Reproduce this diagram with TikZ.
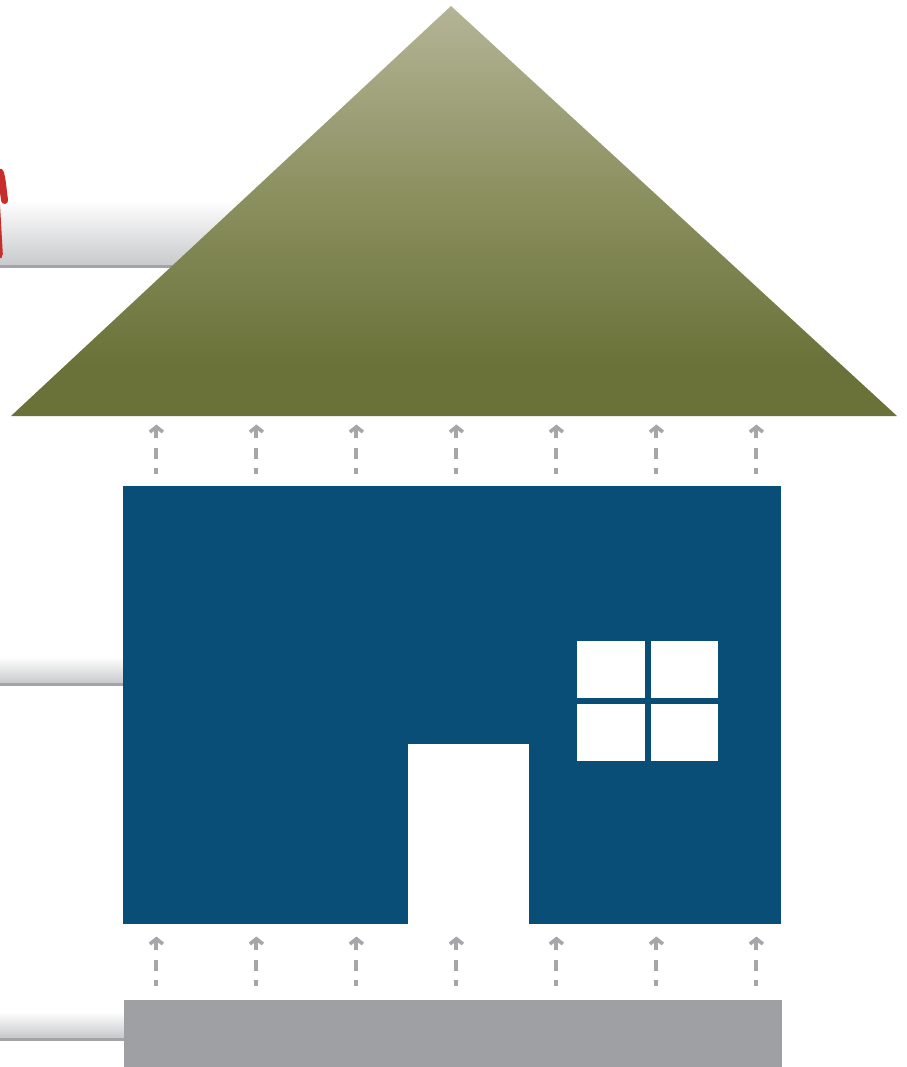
\documentclass[tikz,border=0pt]{standalone}
\definecolor{roofTop}{HTML}{B4B496}
\definecolor{roofMid}{HTML}{8A8F5E}
\definecolor{roofBot}{HTML}{6A7239}
\definecolor{wallBlue}{HTML}{084E77}
\definecolor{baseGrey}{HTML}{9FA0A3}
\definecolor{arrowGrey}{HTML}{A5A6A9}
\definecolor{bandGrey}{HTML}{C9CACC}
\definecolor{lineGrey}{HTML}{A3A4A7}
\definecolor{markRed}{HTML}{C62D2B}
\pgfdeclareverticalshading{roofgrad}{100bp}{
  color(0bp)=(roofBot); color(31.2bp)=(roofBot); color(51.3bp)=(roofMid);
  color(75bp)=(roofTop); color(100bp)=(roofTop)}
\tikzset{
  x=1pt,y=-1pt,
  band/.style={draw=none,top color=white,bottom color=bandGrey},
  bandline/.style={lineGrey,line width=3pt},
  flowdash/.style={draw=arrowGrey,line width=4pt},
  flowhead/.style={draw=arrowGrey,line width=3.6pt,line join=miter},
  pane/.style={fill=white,draw=none},
}
\newcommand{\upflow}[2]{%
  \draw[flowdash] ({#1+0.4},{#2+50}) -- ({#1+0.4},{#2+44});
  \draw[flowdash] ({#1+0.4},{#2+35}) -- ({#1+0.4},{#2+23.5});
  \draw[flowdash] ({#1+0.4},{#2+14}) -- ({#1+0.4},{#2+3});
  \draw[flowhead] ({#1-6.1},{#2+8}) -- ({#1+0.4},{#2+2.8}) -- ({#1+6.9},{#2+8});
}
\begin{document}
\begin{tikzpicture}
\useasboundingbox (0,0) rectangle (906,1067);
% side bands
\fill[band] (0,200) rectangle (240,265);
\draw[bandline] (0,266) -- (180,266);
\fill[band] (0,657) rectangle (123,683);
\draw[bandline] (0,684.5) -- (123,684.5);
\fill[band] (0,1012) rectangle (124,1037);
\draw[bandline] (0,1039) -- (124,1039);
% red marks
\draw[markRed,line width=7pt,line cap=round] (0,172) .. controls (2.5,178) and (3,190) .. (4.6,200.5);
\fill[markRed] (0,205) -- (1,222) -- (2.8,254) -- (1.5,258) -- (0,258) -- cycle;
% roof
\shade[shading=roofgrad] (451,6) -- (897,416) -- (11,416) -- cycle;
% body
\fill[wallBlue] (123,486) rectangle (781,924);
\fill[white] (408,744) rectangle (529,925);
\fill[pane] (577,641) rectangle (645,698);
\fill[pane] (651,641) rectangle (718,698);
\fill[pane] (577,704) rectangle (645,761);
\fill[pane] (651,704) rectangle (718,761);
% base
\fill[baseGrey] (124,1000) rectangle (782,1067);
% arrows
\foreach \x in {156,256,356,456,556,656,756} {\upflow{\x}{424}\upflow{\x}{936}}
\end{tikzpicture}
\end{document}
